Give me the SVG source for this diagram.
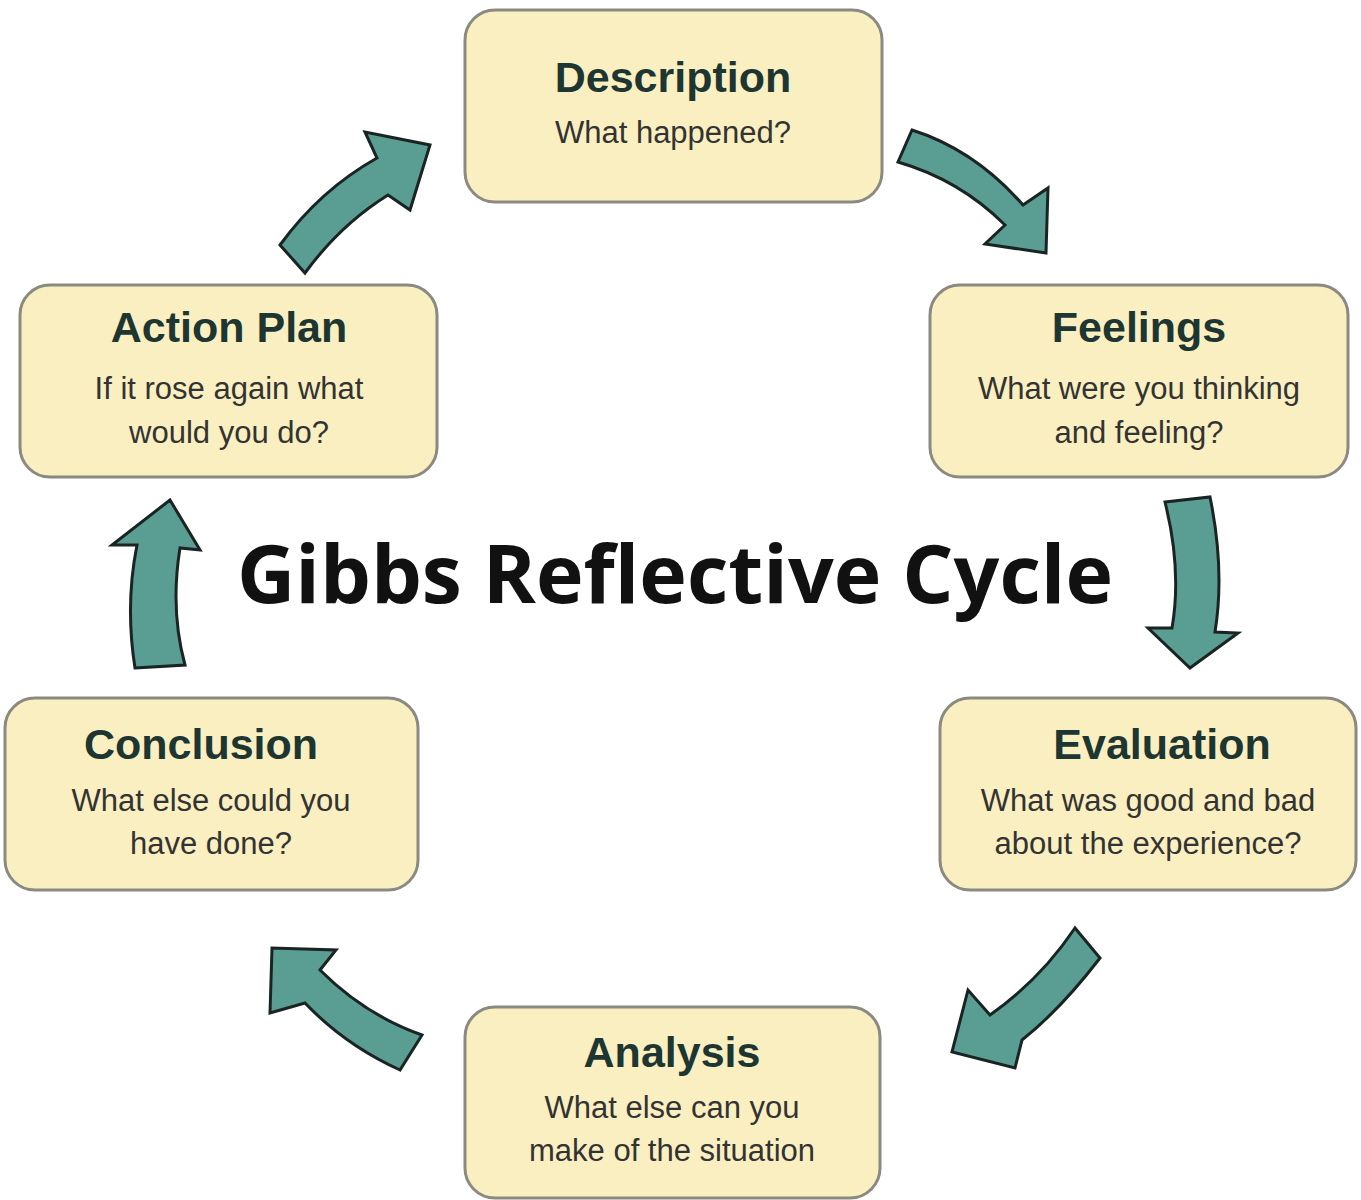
<svg xmlns="http://www.w3.org/2000/svg" width="1361" height="1200" viewBox="0 0 1361 1200">
<style>
.box{fill:#faefc0;stroke:#8a8a80;stroke-width:3}
.t{font-family:"Liberation Sans",Arial,sans-serif;font-weight:bold;font-size:43px;fill:#1d3632;text-anchor:middle}
.s{font-family:"Liberation Sans",Arial,sans-serif;font-size:31px;fill:#333;text-anchor:middle}
.arr{fill:#5a9d93;stroke:#1a2422;stroke-width:3;stroke-linejoin:miter}
</style>
<rect width="1361" height="1200" fill="#fff"/>
<g id="description"><rect class="box" x="465" y="10" width="417" height="192" rx="30"/><text class="t" x="673" y="92">Description</text><text class="s" x="673" y="143">What happened?</text></g>
<g id="feelings"><rect class="box" x="930" y="285" width="418" height="192" rx="30"/><text class="t" x="1139" y="342">Feelings</text><text class="s" x="1139" y="399">What were you thinking</text><text class="s" x="1139" y="443">and feeling?</text></g>
<g id="evaluation"><rect class="box" x="940" y="698" width="416" height="192" rx="30"/><text class="t" x="1162" y="759">Evaluation</text><text class="s" x="1148" y="811">What was good and bad</text><text class="s" x="1148" y="854">about the experience?</text></g>
<g id="analysis"><rect class="box" x="465" y="1007" width="415" height="191" rx="30"/><text class="t" x="672" y="1067">Analysis</text><text class="s" x="672" y="1118">What else can you</text><text class="s" x="672" y="1161">make of the situation</text></g>
<g id="conclusion"><rect class="box" x="5" y="698" width="413" height="192" rx="30"/><text class="t" x="201" y="759">Conclusion</text><text class="s" x="211" y="811">What else could you</text><text class="s" x="211" y="854">have done?</text></g>
<g id="actionplan"><rect class="box" x="20" y="285" width="417" height="192" rx="30"/><text class="t" x="229" y="342">Action Plan</text><text class="s" x="229" y="399">If it rose again what</text><text class="s" x="229" y="443">would you do?</text></g>
<text x="237" y="603" font-family="'Open Sans',sans-serif" font-weight="bold" font-size="80" fill="#111" textLength="876" lengthAdjust="spacingAndGlyphs">Gibbs Reflective Cycle</text>
<g id="connectors">
<path class="arr" d="M898,162 L912,130 Q975,150 1023,205 L1048,188 L1046,253 L985,244 L1005,225 Q960,180 898,162 Z"/>
<path class="arr" d="M1165,502 L1210,497 Q1225,570 1215,632 L1238,633 L1190,668 L1148,628 L1172,628 Q1182,570 1165,502 Z"/>
<path class="arr" d="M1075,928 L1100,958 Q1060,1010 1022,1040 L1015,1068 L952,1052 L968,990 L990,1015 Q1040,980 1075,928 Z"/>
<path class="arr" d="M422,1035 L400,1070 Q345,1045 305,1003 L270,1013 L272,948 L336,950 L320,970 Q365,1015 422,1035 Z"/>
<path class="arr" d="M135,668 L185,665 Q170,610 180,548 L200,550 L170,500 L112,545 L137,545 Q125,605 135,668 Z"/>
<path class="arr" d="M280,245 L305,273 Q340,225 388,195 L410,210 L430,145 L365,132 L377,158 Q320,190 280,245 Z"/>
</g>
</svg>
